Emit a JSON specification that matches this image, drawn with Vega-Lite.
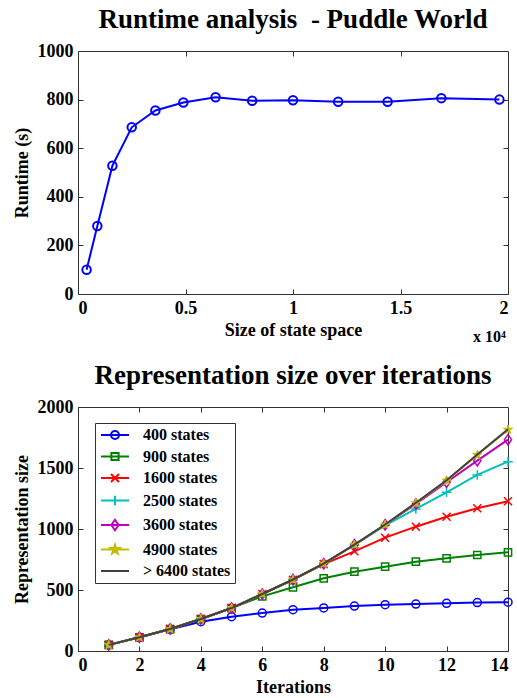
{
  "$schema": "https://vega.github.io/schema/vega-lite/v6.json",
  "padding": {"left": 13, "top": 6, "right": 5, "bottom": 2},
  "spacing": 18,
  "config": {
    "font": "Liberation Serif",
    "view": {"stroke": null},
    "title": {"font": "Liberation Serif", "fontSize": 27, "fontWeight": "bold", "color": "#000", "offset": 8},
    "axis": {
      "grid": false,
      "labelFont": "Liberation Serif", "labelFontSize": 18, "labelFontWeight": "bold", "labelColor": "#000",
      "titleFont": "Liberation Serif", "titleFontSize": 18, "titleFontWeight": "bold", "titleColor": "#000",
      "domainColor": "#333", "tickColor": "#333", "tickSize": -5, "labelPadding": 10, "titlePadding": 6, "format": "d"
    },
    "legend": {
      "orient": "none", "legendX": 17, "legendY": 372, "strokeColor": "#333", "fillColor": "#fff", "padding": 4,
      "labelFont": "Liberation Serif", "labelFontSize": 16, "labelFontWeight": "bold", "labelColor": "#000",
      "symbolSize": 64, "symbolOffset": 8, "labelOffset": 20, "rowPadding": 5.5, "symbolStrokeWidth": 2
    }
  },
  "vconcat": [
    {
      "width": 430,
      "height": 243,
      "title": "Runtime analysis \u00a0- Puddle World",
      "data": {"values": [
        {"states": 400, "runtime": 100},
        {"states": 900, "runtime": 280},
        {"states": 1600, "runtime": 528},
        {"states": 2500, "runtime": 686},
        {"states": 3600, "runtime": 755},
        {"states": 4900, "runtime": 788},
        {"states": 6400, "runtime": 810},
        {"states": 8100, "runtime": 795},
        {"states": 10000, "runtime": 797},
        {"states": 12100, "runtime": 791},
        {"states": 14400, "runtime": 791},
        {"states": 16900, "runtime": 806},
        {"states": 19600, "runtime": 800}
      ]},
      "layer": [
        {
          "mark": {"type": "line", "color": "#0000ff", "strokeWidth": 2},
          "encoding": {
            "x": {"field": "states", "type": "quantitative", "scale": {"domain": [0, 20000], "nice": false},
                  "axis": {"orient": "bottom", "values": [0, 5000, 10000, 15000, 20000], "labelExpr": "'' + datum.value / 10000", "title": "Size of state space", "titlePadding": 4}},
            "y": {"field": "runtime", "type": "quantitative", "scale": {"domain": [0, 1000], "nice": false},
                  "axis": {"orient": "left", "values": [0, 200, 400, 600, 800, 1000], "title": "Runtime (s)"}}
          }
        },
        {
          "mark": {"type": "point", "shape": "M1,0A1,1,0,1,1,-1,0A1,1,0,1,1,1,0Z", "filled": false, "color": "#0000ff", "strokeWidth": 2, "size": 72, "opacity": 1},
          "encoding": {
            "x": {"field": "states", "type": "quantitative",
                  "axis": {"orient": "top", "values": [5000, 10000, 15000], "labels": false, "title": "x 10\u2074", "titleFontSize": 16, "titleX": 411, "titleY": 290, "titleAlign": "center", "titleBaseline": "alphabetic", "titleAngle": 0}},
            "y": {"field": "runtime", "type": "quantitative",
                  "axis": {"orient": "right", "values": [200, 400, 600, 800], "labels": false, "title": null}}
          }
        }
      ],
      "resolve": {"axis": {"x": "independent", "y": "independent"}}
    },
    {
      "width": 430,
      "height": 244,
      "title": "Representation size over iterations",
      "data": {"values": [
        {"series": "400 states", "iteration": 1, "size": 50},
        {"series": "400 states", "iteration": 2, "size": 112},
        {"series": "400 states", "iteration": 3, "size": 178},
        {"series": "400 states", "iteration": 4, "size": 240},
        {"series": "400 states", "iteration": 5, "size": 281},
        {"series": "400 states", "iteration": 6, "size": 311},
        {"series": "400 states", "iteration": 7, "size": 339},
        {"series": "400 states", "iteration": 8, "size": 353},
        {"series": "400 states", "iteration": 9, "size": 368},
        {"series": "400 states", "iteration": 10, "size": 380},
        {"series": "400 states", "iteration": 11, "size": 385},
        {"series": "400 states", "iteration": 12, "size": 391},
        {"series": "400 states", "iteration": 13, "size": 397},
        {"series": "400 states", "iteration": 14, "size": 400},
        {"series": "900 states", "iteration": 1, "size": 50},
        {"series": "900 states", "iteration": 2, "size": 112},
        {"series": "900 states", "iteration": 3, "size": 180},
        {"series": "900 states", "iteration": 4, "size": 262},
        {"series": "900 states", "iteration": 5, "size": 352},
        {"series": "900 states", "iteration": 6, "size": 448},
        {"series": "900 states", "iteration": 7, "size": 522},
        {"series": "900 states", "iteration": 8, "size": 596},
        {"series": "900 states", "iteration": 9, "size": 650},
        {"series": "900 states", "iteration": 10, "size": 691},
        {"series": "900 states", "iteration": 11, "size": 732},
        {"series": "900 states", "iteration": 12, "size": 760},
        {"series": "900 states", "iteration": 13, "size": 787},
        {"series": "900 states", "iteration": 14, "size": 809},
        {"series": "1600 states", "iteration": 1, "size": 50},
        {"series": "1600 states", "iteration": 2, "size": 112},
        {"series": "1600 states", "iteration": 3, "size": 180},
        {"series": "1600 states", "iteration": 4, "size": 262},
        {"series": "1600 states", "iteration": 5, "size": 352},
        {"series": "1600 states", "iteration": 6, "size": 467},
        {"series": "1600 states", "iteration": 7, "size": 583},
        {"series": "1600 states", "iteration": 8, "size": 712},
        {"series": "1600 states", "iteration": 9, "size": 817},
        {"series": "1600 states", "iteration": 10, "size": 929},
        {"series": "1600 states", "iteration": 11, "size": 1019},
        {"series": "1600 states", "iteration": 12, "size": 1101},
        {"series": "1600 states", "iteration": 13, "size": 1170},
        {"series": "1600 states", "iteration": 14, "size": 1227},
        {"series": "2500 states", "iteration": 1, "size": 50},
        {"series": "2500 states", "iteration": 2, "size": 112},
        {"series": "2500 states", "iteration": 3, "size": 180},
        {"series": "2500 states", "iteration": 4, "size": 262},
        {"series": "2500 states", "iteration": 5, "size": 352},
        {"series": "2500 states", "iteration": 6, "size": 467},
        {"series": "2500 states", "iteration": 7, "size": 585},
        {"series": "2500 states", "iteration": 8, "size": 716},
        {"series": "2500 states", "iteration": 9, "size": 868},
        {"series": "2500 states", "iteration": 10, "size": 1030},
        {"series": "2500 states", "iteration": 11, "size": 1164},
        {"series": "2500 states", "iteration": 12, "size": 1301},
        {"series": "2500 states", "iteration": 13, "size": 1443},
        {"series": "2500 states", "iteration": 14, "size": 1552},
        {"series": "3600 states", "iteration": 1, "size": 50},
        {"series": "3600 states", "iteration": 2, "size": 112},
        {"series": "3600 states", "iteration": 3, "size": 180},
        {"series": "3600 states", "iteration": 4, "size": 262},
        {"series": "3600 states", "iteration": 5, "size": 352},
        {"series": "3600 states", "iteration": 6, "size": 467},
        {"series": "3600 states", "iteration": 7, "size": 585},
        {"series": "3600 states", "iteration": 8, "size": 716},
        {"series": "3600 states", "iteration": 9, "size": 871},
        {"series": "3600 states", "iteration": 10, "size": 1035},
        {"series": "3600 states", "iteration": 11, "size": 1205},
        {"series": "3600 states", "iteration": 12, "size": 1383},
        {"series": "3600 states", "iteration": 13, "size": 1560},
        {"series": "3600 states", "iteration": 14, "size": 1732},
        {"series": "4900 states", "iteration": 1, "size": 50},
        {"series": "4900 states", "iteration": 2, "size": 112},
        {"series": "4900 states", "iteration": 3, "size": 180},
        {"series": "4900 states", "iteration": 4, "size": 262},
        {"series": "4900 states", "iteration": 5, "size": 352},
        {"series": "4900 states", "iteration": 6, "size": 467},
        {"series": "4900 states", "iteration": 7, "size": 585},
        {"series": "4900 states", "iteration": 8, "size": 716},
        {"series": "4900 states", "iteration": 9, "size": 871},
        {"series": "4900 states", "iteration": 10, "size": 1035},
        {"series": "4900 states", "iteration": 11, "size": 1213},
        {"series": "4900 states", "iteration": 12, "size": 1396},
        {"series": "4900 states", "iteration": 13, "size": 1607},
        {"series": "4900 states", "iteration": 14, "size": 1814},
        {"series": "> 6400 states", "iteration": 1, "size": 50},
        {"series": "> 6400 states", "iteration": 2, "size": 112},
        {"series": "> 6400 states", "iteration": 3, "size": 180},
        {"series": "> 6400 states", "iteration": 4, "size": 262},
        {"series": "> 6400 states", "iteration": 5, "size": 352},
        {"series": "> 6400 states", "iteration": 6, "size": 467},
        {"series": "> 6400 states", "iteration": 7, "size": 586},
        {"series": "> 6400 states", "iteration": 8, "size": 717},
        {"series": "> 6400 states", "iteration": 9, "size": 872},
        {"series": "> 6400 states", "iteration": 10, "size": 1037},
        {"series": "> 6400 states", "iteration": 11, "size": 1215},
        {"series": "> 6400 states", "iteration": 12, "size": 1400},
        {"series": "> 6400 states", "iteration": 13, "size": 1610},
        {"series": "> 6400 states", "iteration": 14, "size": 1818}
      ]},
      "layer": [
        {
          "transform": [{"filter": "datum.series !== '> 6400 states'"}],
          "mark": {"type": "line", "strokeWidth": 2},
          "encoding": {
            "x": {"field": "iteration", "type": "quantitative", "scale": {"domain": [0, 14], "nice": false},
                  "axis": {"orient": "bottom", "values": [0, 2, 4, 6, 8, 10, 12, 14], "title": "Iterations", "titlePadding": 4}},
            "y": {"field": "size", "type": "quantitative", "scale": {"domain": [0, 2000], "nice": false},
                  "axis": {"orient": "left", "values": [0, 500, 1000, 1500, 2000], "title": "Representation size"}},
            "color": {"field": "series", "type": "nominal",
                      "scale": {"domain": ["400 states", "900 states", "1600 states", "2500 states", "3600 states", "4900 states", "> 6400 states"],
                                "range": ["#0000ff", "#008000", "#ff0000", "#00bfbf", "#bf00bf", "#bfbf00", "#404040"]},
                      "sort": null,
                      "legend": {"title": null,
                                 "encode": {"symbols": {"update": {
                                   "shape": {"signal": "{'400 states': 'M-3.5,0L3.5,0M1,0A1,1,0,1,1,-1,0A1,1,0,1,1,1,0Z', '900 states': 'M-3.5,0L3.5,0M-0.9,-0.9L0.9,-0.9L0.9,0.9L-0.9,0.9Z', '1600 states': 'M-3.5,0L3.5,0M-1,-1L1,1M-1,1L1,-1', '2500 states': 'M-3.5,0L3.5,0M0,-1.2L0,1.2', '3600 states': 'M-3.5,0L3.5,0M0,-1.3L0.9,0L0,1.3L-0.9,0Z', '4900 states': 'M-3.5,0L3.5,0M0,-1.2L0.27,-0.37L1.14,-0.37L0.44,0.14L0.7,0.97L0,0.46L-0.7,0.97L-0.44,0.14L-1.14,-0.37L-0.27,-0.37Z', '> 6400 states': 'M-3.5,0L3.5,0'}[datum.value]"},
                                   "size": {"value": 64},
                                   "strokeWidth": {"value": 2},
                                   "fill": {"signal": "datum.value === '4900 states' ? '#bfbf00' : 'transparent'"}
                                 }}}}
                     }
          }
        },
        {
          "transform": [{"filter": "datum.series === '400 states'"}],
          "mark": {"type": "point", "shape": "M1,0A1,1,0,1,1,-1,0A1,1,0,1,1,1,0Z", "filled": false, "strokeWidth": 1.5, "size": 64, "opacity": 1},
          "encoding": {
            "x": {"field": "iteration", "type": "quantitative",
                  "axis": {"orient": "top", "values": [2, 4, 6, 8, 10, 12], "labels": false, "title": null}},
            "y": {"field": "size", "type": "quantitative",
                  "axis": {"orient": "right", "values": [500, 1000, 1500], "labels": false, "title": null}},
            "color": {"field": "series", "type": "nominal", "sort": null, "legend": {"title": null}}
          }
        },
        {
          "transform": [{"filter": "datum.series === '900 states'"}],
          "mark": {"type": "point", "shape": "M-0.9,-0.9L0.9,-0.9L0.9,0.9L-0.9,0.9Z", "filled": false, "strokeWidth": 1.5, "size": 64, "opacity": 1},
          "encoding": {
            "x": {"field": "iteration", "type": "quantitative", "axis": null},
            "y": {"field": "size", "type": "quantitative", "axis": null},
            "color": {"field": "series", "type": "nominal", "sort": null, "legend": {"title": null}}
          }
        },
        {
          "transform": [{"filter": "datum.series === '1600 states'"}],
          "mark": {"type": "point", "shape": "M-1,-1L1,1M-1,1L1,-1", "filled": false, "strokeWidth": 1.5, "size": 64, "opacity": 1},
          "encoding": {
            "x": {"field": "iteration", "type": "quantitative", "axis": null},
            "y": {"field": "size", "type": "quantitative", "axis": null},
            "color": {"field": "series", "type": "nominal", "sort": null, "legend": {"title": null}}
          }
        },
        {
          "transform": [{"filter": "datum.series === '2500 states'"}],
          "mark": {"type": "point", "shape": "M-1.2,0L1.2,0M0,-1.2L0,1.2", "filled": false, "strokeWidth": 1.5, "size": 64, "opacity": 1},
          "encoding": {
            "x": {"field": "iteration", "type": "quantitative", "axis": null},
            "y": {"field": "size", "type": "quantitative", "axis": null},
            "color": {"field": "series", "type": "nominal", "sort": null, "legend": {"title": null}}
          }
        },
        {
          "transform": [{"filter": "datum.series === '3600 states'"}],
          "mark": {"type": "point", "shape": "M0,-1.3L0.9,0L0,1.3L-0.9,0Z", "filled": false, "strokeWidth": 1.5, "size": 64, "opacity": 1},
          "encoding": {
            "x": {"field": "iteration", "type": "quantitative", "axis": null},
            "y": {"field": "size", "type": "quantitative", "axis": null},
            "color": {"field": "series", "type": "nominal", "sort": null, "legend": {"title": null}}
          }
        },
        {
          "transform": [{"filter": "datum.series === '4900 states'"}],
          "mark": {"type": "point", "shape": "M0,-1.2L0.27,-0.37L1.14,-0.37L0.44,0.14L0.7,0.97L0,0.46L-0.7,0.97L-0.44,0.14L-1.14,-0.37L-0.27,-0.37Z", "filled": false, "fill": "#bfbf00", "strokeWidth": 1, "size": 64, "opacity": 1},
          "encoding": {
            "x": {"field": "iteration", "type": "quantitative", "axis": null},
            "y": {"field": "size", "type": "quantitative", "axis": null},
            "color": {"field": "series", "type": "nominal", "sort": null, "legend": {"title": null}}
          }
        },
        {
          "transform": [{"filter": "datum.series === '> 6400 states'"}],
          "mark": {"type": "line", "strokeWidth": 2},
          "encoding": {
            "x": {"field": "iteration", "type": "quantitative", "axis": null},
            "y": {"field": "size", "type": "quantitative", "axis": null},
            "color": {"field": "series", "type": "nominal", "sort": null, "legend": {"title": null}}
          }
        }
      ],
      "resolve": {"axis": {"x": "independent", "y": "independent"}}
    }
  ]
}
